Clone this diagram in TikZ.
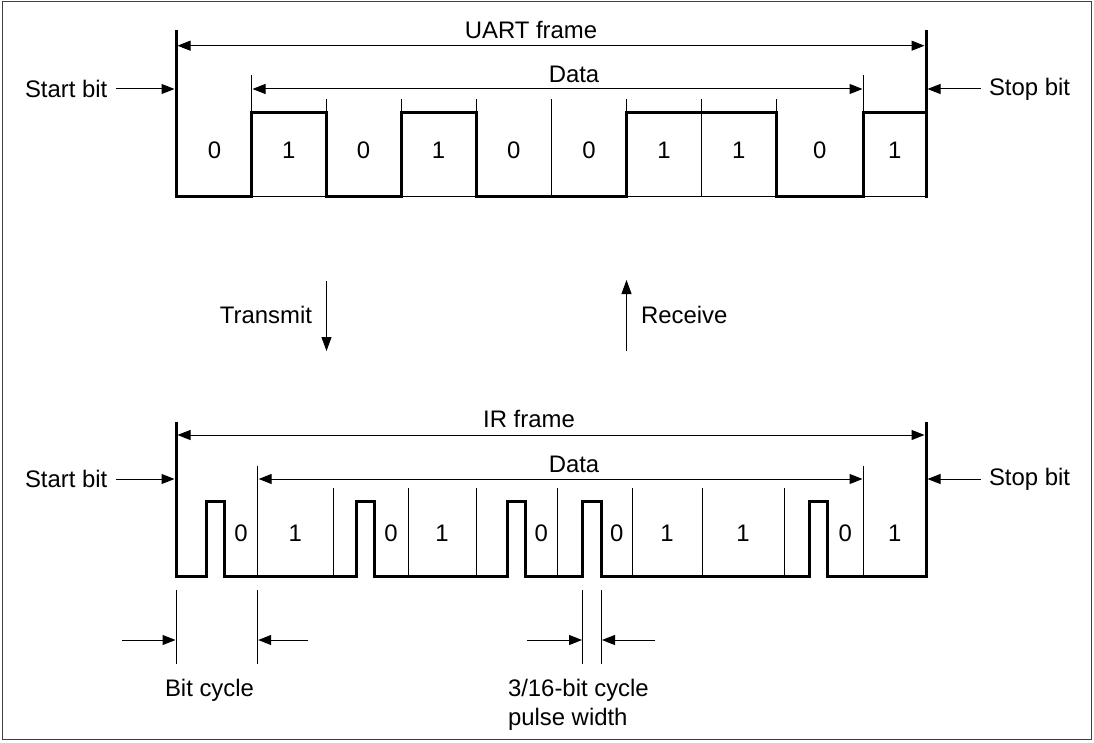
\documentclass[tikz,border=0pt]{standalone}
\usepackage{fontspec}
\setmainfont{Liberation Sans}
\usetikzlibrary{arrows.meta}
\begin{document}
\begin{tikzpicture}[x=1pt,y=-1pt,
  thinln/.style={line width=1pt,black},
  thickln/.style={line width=3pt,black,line join=miter},
  dimarr/.style={line width=1pt,black,-{Triangle[length=13pt,width=10pt]}},
  dimboth/.style={line width=1pt,black,{Triangle[length=13pt,width=10pt]}-{Triangle[length=13pt,width=10pt]}},
  border/.style={line width=1.6pt,draw=black!75},
  lbl/.style={font=\fontsize{23.9}{28}\selectfont,inner sep=0pt,outer sep=0pt}]
\useasboundingbox (0,0) rectangle (1094,743);
\draw[border] (2.5,1.5) rectangle (1091.5,739.5);

% ---------------- UART frame ----------------
\foreach \x in {326,401,476,551.5,626.5,701.5,776}
  \draw[thinln] (\x,99.3) -- (\x,197);
\draw[thinln] (251.5,75) -- (251.5,197);
\draw[thinln] (863.5,75) -- (863.5,197);
\draw[thinln] (176,197) -- (926,197);
\draw[thickln] (176,30) -- (176,197) -- (251.5,197) -- (251.5,112.7) -- (326,112.7)
  -- (326,197) -- (401,197) -- (401,112.7) -- (476,112.7) -- (476,197)
  -- (626.5,197) -- (626.5,112.7) -- (776,112.7) -- (776,197) -- (863.5,197)
  -- (863.5,112.7) -- (926,112.7);
\draw[thickln] (926,30) -- (926,198.5);

\coordinate (uFL) at (177.5,45.7);
\coordinate (uFR) at (924.5,45.7);
\coordinate (uDL) at (252.5,89);
\coordinate (uDR) at (862.5,89);
\coordinate (uStartTip) at (174.5,89);
\coordinate (uStopTip) at (927.5,89);
\draw[dimboth] (uFL) -- (uFR);
\draw[dimboth] (uDL) -- (uDR);
\node[lbl,anchor=base] (uframe) at (531,39) {UART frame};
\node[lbl,anchor=base] (udata) at (574,82.5) {Data};
\node[lbl,anchor=west] (ustart) at (25,89) {Start bit};
\node[lbl,anchor=west] (ustop) at (989,89) {Stop bit};
\draw[dimarr] ([xshift=9pt]ustart.east) -- (uStartTip);
\draw[dimarr] ([xshift=-8pt]ustop.west) -- (uStopTip);

\foreach \x/\b [count=\i] in {214.5/0,288.8/1,363.5/0,438.5/1,513.8/0,589/0,664/1,738.8/1,819.8/0,894.8/1}
  \node[lbl] (ub\i) at (\x,150) {\b};

% ---------------- Transmit / Receive ----------------
\coordinate (txTop) at (326.5,281);
\coordinate (txBot) at (326.5,351);
\coordinate (rxBot) at (626.5,351);
\coordinate (rxTop) at (626.5,280);
\draw[line width=1pt,-{Triangle[length=14pt,width=10pt]}] (txTop) -- (txBot);
\draw[line width=1pt,-{Triangle[length=14pt,width=10pt]}] (rxBot) -- (rxTop);
\node[lbl,anchor=east] (tx) at (312,315) {Transmit};
\node[lbl,anchor=west] (rx) at (641,315) {Receive};

% ---------------- IR frame ----------------
\foreach \x in {333,408,476,557.7,632,702,784}
  \draw[thinln] (\x,488) -- (\x,576);
\draw[thinln] (257.7,465.7) -- (257.7,576);
\draw[thinln] (863.5,465.7) -- (863.5,576);
\draw[thickln] (176,421.7) -- (176,576)
  -- (206,576) -- (206,501.7) -- (224,501.7) -- (224,576)
  -- (356,576) -- (356,501.7) -- (374,501.7) -- (374,576)
  -- (507,576) -- (507,501.7) -- (525,501.7) -- (525,576)
  -- (582.5,576) -- (582.5,501.7) -- (601.5,501.7) -- (601.5,576)
  -- (809,576) -- (809,501.7) -- (827,501.7) -- (827,576)
  -- (926,576) -- (926,421.7);

\coordinate (iFL) at (177.5,435);
\coordinate (iFR) at (924.5,435);
\coordinate (iDL) at (258.7,479);
\coordinate (iDR) at (862.5,479);
\coordinate (iStartTip) at (174.5,479);
\coordinate (iStopTip) at (927.5,479);
\draw[dimboth] (iFL) -- (iFR);
\draw[dimboth] (iDL) -- (iDR);
\node[lbl,anchor=base] (iframe) at (529,427) {IR frame};
\node[lbl,anchor=base] (idata) at (574,472.5) {Data};
\node[lbl,anchor=west] (istart) at (25,479) {Start bit};
\node[lbl,anchor=west] (istop) at (989,479) {Stop bit};
\draw[dimarr] ([xshift=9pt]istart.east) -- (iStartTip);
\draw[dimarr] ([xshift=-8pt]istop.west) -- (iStopTip);

\foreach \x/\b [count=\i] in {240.9/0,295.3/1,391/0,442/1,541.3/0,616.8/0,667/1,743/1,845.2/0,894.8/1}
  \node[lbl] (ib\i) at (\x,533) {\b};

% ---------------- Bit cycle / pulse width ----------------
\draw[thinln] (176,590) -- (176,664);
\draw[thinln] (257.7,590) -- (257.7,664);
\draw[thinln] (582.5,590) -- (582.5,664);
\draw[thinln] (601.5,590) -- (601.5,664);
\coordinate (bcLt) at (122,640);
\coordinate (bcLh) at (175.5,640);
\coordinate (bcRt) at (308,640);
\coordinate (bcRh) at (258.2,640);
\coordinate (pwLt) at (527,640);
\coordinate (pwLh) at (582,640);
\coordinate (pwRt) at (655,640);
\coordinate (pwRh) at (602,640);
\draw[dimarr] (bcLt) -- (bcLh);
\draw[dimarr] (bcRt) -- (bcRh);
\draw[dimarr] (pwLt) -- (pwLh);
\draw[dimarr] (pwRt) -- (pwRh);
\node[lbl,anchor=base west] (bitcycle) at (165,696) {Bit cycle};
\node[lbl,anchor=base west] (pw1) at (508,696) {3/16-bit cycle};
\node[lbl,anchor=base west] (pw2) at (508,725) {pulse width};
\end{tikzpicture}
\end{document}
